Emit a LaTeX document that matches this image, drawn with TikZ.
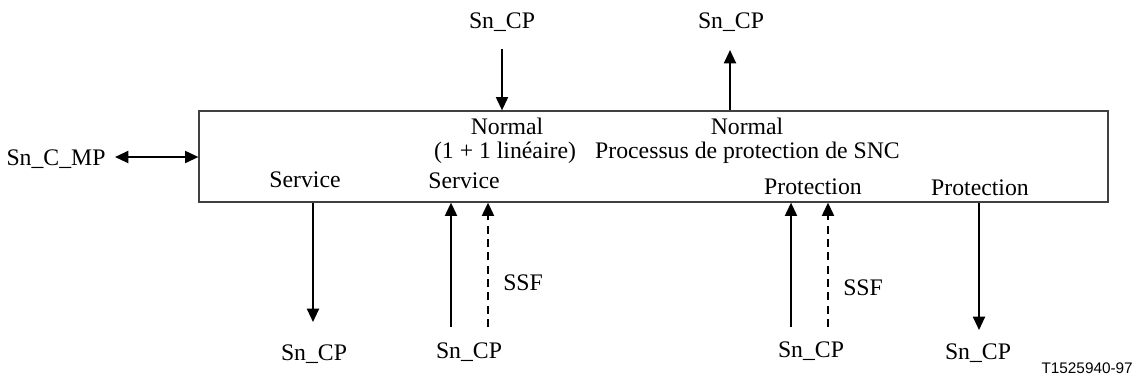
\documentclass[tikz,border=0pt]{standalone}
\usepackage{fontspec}
\setmainfont{Liberation Serif}
\newfontfamily\labelsans{Liberation Sans}
\usetikzlibrary{arrows.meta}
\begin{document}
\begin{tikzpicture}[x=0.75pt,y=-0.75pt,
  txt/.style={inner sep=0pt,anchor=base,font=\fontsize{17.8}{20}\selectfont},
  sig/.style={line width=1.5pt,-{Triangle[width=9pt,length=10pt]}},
  sigboth/.style={line width=1.5pt,{Triangle[width=9pt,length=10pt]}-{Triangle[width=9pt,length=10pt]}},
  dsig/.style={sig,dash pattern=on 6pt off 4pt},
  boxstyle/.style={draw=black!75,line width=0.9pt,inner sep=0pt}]
\useasboundingbox (0,0) rectangle (1137,380);
% main block
\node[boxstyle,minimum width=681.75pt,minimum height=68.25pt] (box) at (653.5,156.5) {};
% texts inside
\node[txt] (n1) at (507,134) {Normal};
\node[txt] (lin) at (505,158) {(1 + 1 linéaire)};
\node[txt] (sv2) at (464,188) {Service};
\node[txt] (n2) at (747,134) {Normal};
\node[txt] (proc) at (747.5,158) {Processus de protection de SNC};
\node[txt] (pr1) at (813,194) {Protection};
\node[txt] (sv1) at (305,187) {Service};
\node[txt] (pr2) at (980,195) {Protection};
% outside labels
\node[txt] (mp) at (56,165) {Sn\_C\_MP};
\node[txt] (t1) at (502,28) {Sn\_CP};
\node[txt] (t2) at (731,28) {Sn\_CP};
\node[txt] (b1) at (314,360) {Sn\_CP};
\node[txt] (b2) at (469,358) {Sn\_CP};
\node[txt] (b3) at (811,357) {Sn\_CP};
\node[txt] (b4) at (978,359) {Sn\_CP};
\node[txt,anchor=base west] (ssf1) at (503,290) {SSF};
\node[txt,anchor=base west] (ssf2) at (843,295) {SSF};
\node[inner sep=0pt,anchor=base east,font=\labelsans\fontsize{11.5}{13}\selectfont] (id) at (1133,373) {T1525940-97};
% connector free ends
\coordinate (mpE) at (115,157);
\coordinate (t1E) at (502,49);
\coordinate (t2E) at (730,50);
\coordinate (b1E) at (313,322);
\coordinate (b2s) at (451,327);
\coordinate (b2d) at (488,327);
\coordinate (b3s) at (791,327);
\coordinate (b3d) at (828,327);
\coordinate (b4E) at (979,330);
% connectors
\draw[sigboth] (mpE) -- (mpE -| box.west);
\draw[sig] (t1E) -- (t1E |- box.north);
\draw[sig] (t2E |- box.north) -- (t2E);
\draw[sig] (b1E |- box.south) -- (b1E);
\draw[sig] (b2s) -- (b2s |- box.south);
\draw[dsig] (b2d) -- (b2d |- box.south);
\draw[sig] (b3s) -- (b3s |- box.south);
\draw[dsig] (b3d) -- (b3d |- box.south);
\draw[sig] (b4E |- box.south) -- (b4E);
\end{tikzpicture}
\end{document}
